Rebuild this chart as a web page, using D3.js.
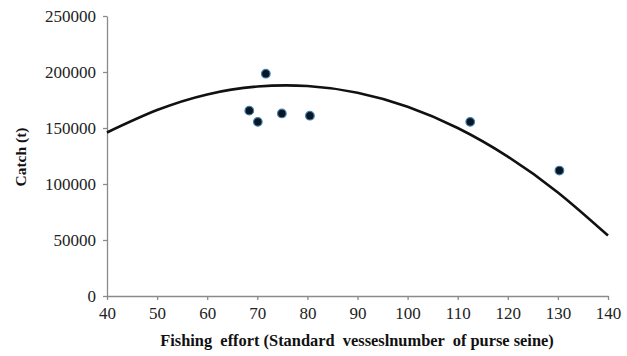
<!DOCTYPE html>
<html>
<head>
<meta charset="utf-8">
<script src="https://cdn.jsdelivr.net/npm/d3@7"></script>
<style>
  body { margin: 0; background: #fff; }
</style>
</head>
<body>
<div id="chart"></div>
<script>
// Observed catch vs effort
var effort = [68.4, 70.1, 71.7, 74.9, 80.5, 112.5, 130.3];
var catchT = [165500, 155500, 198500, 163000, 161000, 155500, 112000];

// Fitted production curve
var curveX = [40, 50, 60, 70, 80, 90, 100, 110, 120, 130, 140];
var curveY = [146000, 166000, 180000, 187000, 187500, 181500, 169000, 150000, 124500, 92500, 54000];

var xTicks = [40, 50, 60, 70, 80, 90, 100, 110, 120, 130, 140];
var yTicks = [0, 50000, 100000, 150000, 200000, 250000];

var serif = "'Liberation Serif', 'Times New Roman', serif";

var w = 627;
var h = 356;
var margin = { top: 16, right: 19, bottom: 60, left: 107 };

var svg = d3.select("#chart")
  .append("svg")
  .attr("width", w)
  .attr("height", h);

var xScale = d3.scaleLinear()
  .domain([40, 140])
  .range([margin.left, w - margin.right]);

var yScale = d3.scaleLinear()
  .domain([0, 250000])
  .range([h - margin.bottom, margin.top]);

// Axes
var xAxis = d3.axisBottom(xScale)
  .tickValues(xTicks)
  .tickFormat(d3.format("d"))
  .tickSizeInner(4)
  .tickSizeOuter(0)
  .tickPadding(7);

var yAxis = d3.axisLeft(yScale)
  .tickValues(yTicks)
  .tickFormat(d3.format("d"))
  .tickSizeInner(4)
  .tickSizeOuter(0)
  .tickPadding(7);

var gx = svg.append("g")
  .attr("transform", "translate(0," + (h - margin.bottom) + ")")
  .call(xAxis);

var gy = svg.append("g")
  .attr("transform", "translate(" + margin.left + ",0)")
  .call(yAxis);

[gx, gy].forEach(function(g) {
  g.attr("font-family", null).attr("font-size", null);
  g.selectAll("path, line").attr("stroke", "#8a8a8a").attr("stroke-width", 1.3);
  g.selectAll("text")
    .attr("fill", "#222")
    .style("font-family", serif)
    .style("font-size", "17px");
});

// Fitted curve
var line = d3.line()
  .x(function(d, i) { return xScale(curveX[i]); })
  .y(function(d) { return yScale(d); })
  .curve(d3.curveNatural);

svg.append("path")
  .datum(curveY)
  .attr("d", line)
  .attr("fill", "none")
  .attr("stroke", "#111")
  .attr("stroke-width", 2.6);

// Points
svg.selectAll("circle.pt")
  .data(effort)
  .enter()
  .append("circle")
  .attr("class", "pt")
  .attr("cx", function(d) { return xScale(d); })
  .attr("cy", function(d, i) { return yScale(catchT[i]); })
  .attr("r", 4.3)
  .attr("fill", "#0b1622")
  .attr("stroke", "#3d7fae")
  .attr("stroke-width", 1.2);

// Axis titles
svg.append("text")
  .attr("x", 357)
  .attr("y", 346)
  .attr("text-anchor", "middle")
  .style("font-family", serif)
  .style("font-size", "16.4px")
  .style("font-weight", "bold")
  .style("white-space", "pre")
  .attr("fill", "#111")
  .text("Fishing  effort (Standard  vesseslnumber  of purse seine)");

svg.append("text")
  .attr("transform", "translate(26,157) rotate(-90)")
  .attr("text-anchor", "middle")
  .style("font-family", serif)
  .style("font-size", "15.5px")
  .style("font-weight", "bold")
  .attr("fill", "#111")
  .text("Catch (t)");
</script>
</body>
</html>
